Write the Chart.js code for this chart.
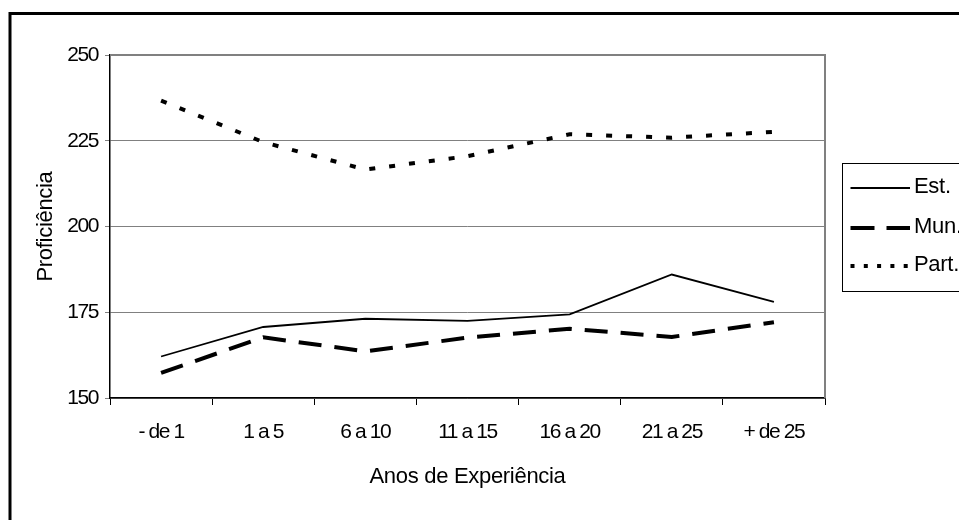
<!DOCTYPE html>
<html>
<head>
<meta charset="utf-8">
<script src="https://cdn.jsdelivr.net/npm/chart.js@4/dist/chart.umd.min.js"></script>
<style>
  html, body { margin: 0; padding: 0; background: #fff; }
  #wrap { width: 959px; height: 520px; }
</style>
</head>
<body>
<div id="wrap"><canvas id="chart" width="959" height="520"></canvas></div>
<script>
// Proficiência média por anos de experiência do professor, por rede de ensino
const categories = ['- de 1', '1 a 5', '6 a 10', '11 a 15', '16 a 20', '21 a 25', '+ de 25'];
const estValues  = [162.1, 170.7, 173.1, 172.5, 174.4, 186.0, 178.0];
const munValues  = [157.3, 167.7, 163.6, 167.6, 170.2, 167.8, 172.1];
const partValues = [236.7, 224.6, 216.6, 220.5, 226.9, 225.9, 227.6];
const seriesNames = ['Est.', 'Mun.', 'Part.'];
const yRange = [150, 250];
const yStep = 25;
const xTitle = 'Anos de Experiência';
const yTitle = 'Proficiência';

const FONT = "'Liberation Sans', Arial, sans-serif";

// Frame, axis titles and the boxed legend at the right
const decorations = {
  id: 'decorations',
  beforeDraw(chart) {
    const ctx = chart.ctx;
    ctx.save();
    ctx.fillStyle = '#fff';
    ctx.fillRect(0, 0, chart.width, chart.height);
    ctx.strokeStyle = '#000';
    ctx.lineWidth = 3;
    ctx.beginPath();
    ctx.moveTo(10, chart.height + 5);
    ctx.lineTo(10, 13.5);
    ctx.lineTo(chart.width + 5, 13.5);
    ctx.stroke();
    ctx.restore();
    // tight spacing for the tick labels drawn by the scales
    ctx.letterSpacing = '-1.4px';
  },
  beforeDatasetsDraw(chart) {
    const { ctx, chartArea: a } = chart;
    ctx.save();
    ctx.letterSpacing = '0px';
    ctx.strokeStyle = '#808080';
    ctx.lineWidth = 2;
    ctx.beginPath();
    ctx.moveTo(a.left, a.top);
    ctx.lineTo(a.right, a.top);
    ctx.lineTo(a.right, a.bottom);
    ctx.stroke();
    ctx.restore();
  },
  afterDraw(chart) {
    const { ctx, chartArea: a } = chart;
    ctx.save();
    ctx.letterSpacing = '-0.3px';
    ctx.fillStyle = '#000';
    ctx.font = '22px ' + FONT;
    ctx.textBaseline = 'middle';
    ctx.textAlign = 'center';
    ctx.fillText(xTitle, (a.left + a.right) / 2, 476.5);
    ctx.save();
    ctx.translate(45.5, (a.top + a.bottom) / 2);
    ctx.rotate(-Math.PI / 2);
    ctx.fillText(yTitle, 0, 0);
    ctx.restore();

    // legend
    ctx.strokeStyle = '#000';
    ctx.lineWidth = 1;
    ctx.strokeRect(842.5, 163.5, 200, 128);
    const rows = [188, 228, 266];
    const legendDash = [[], [24, 12], [4, 9.3]];
    ctx.textAlign = 'left';
    chart.data.datasets.forEach((ds, i) => {
      const y = rows[i];
      ctx.save();
      ctx.strokeStyle = ds.borderColor;
      ctx.lineWidth = ds.borderWidth;
      ctx.lineCap = 'butt';
      ctx.setLineDash(legendDash[i]);
      ctx.beginPath();
      ctx.moveTo(850.5, y);
      ctx.lineTo(910, y);
      ctx.stroke();
      ctx.restore();
      ctx.fillText(ds.label, 914, y - 1.5);
    });
    ctx.restore();
  }
};

new Chart(document.getElementById('chart'), {
  type: 'line',
  data: {
    labels: categories,
    datasets: [
      { label: seriesNames[0], data: estValues, borderColor: '#000', borderWidth: 1.8, borderDash: [] },
      { label: seriesNames[1], data: munValues, borderColor: '#000', borderWidth: 4, borderDash: [23, 13] },
      { label: seriesNames[2], data: partValues, borderColor: '#000', borderWidth: 4, borderDash: [6, 14] }
    ]
  },
  options: {
    responsive: false,
    animation: false,
    devicePixelRatio: 1,
    layout: { padding: { left: 0, top: 55, right: 134, bottom: 0 } },
    elements: {
      point: { radius: 0, hoverRadius: 0 },
      line: { tension: 0, fill: false, borderCapStyle: 'butt', borderJoinStyle: 'miter' }
    },
    plugins: {
      legend: { display: false },
      tooltip: { enabled: false },
      title: { display: false }
    },
    scales: {
      x: {
        type: 'category',
        offset: true,
        afterFit(scale) { scale.height = 122; },
        grid: { offset: true, drawOnChartArea: false, drawTicks: true, tickLength: 7, color: '#000', lineWidth: 1 },
        border: { display: true, color: '#000', width: 1.5 },
        ticks: { color: '#000', padding: 15, maxRotation: 0, autoSkip: false, font: { family: FONT, size: 21 } }
      },
      y: {
        min: yRange[0],
        max: yRange[1],
        afterFit(scale) { scale.width = 110; },
        grid: { color: '#808080', tickColor: '#808080', tickLength: 5, lineWidth: 1 },
        border: { display: true, color: '#000', width: 1.5 },
        ticks: { stepSize: yStep, color: '#000', padding: 7, font: { family: FONT, size: 21 } }
      }
    }
  },
  plugins: [decorations]
});
</script>
</body>
</html>
